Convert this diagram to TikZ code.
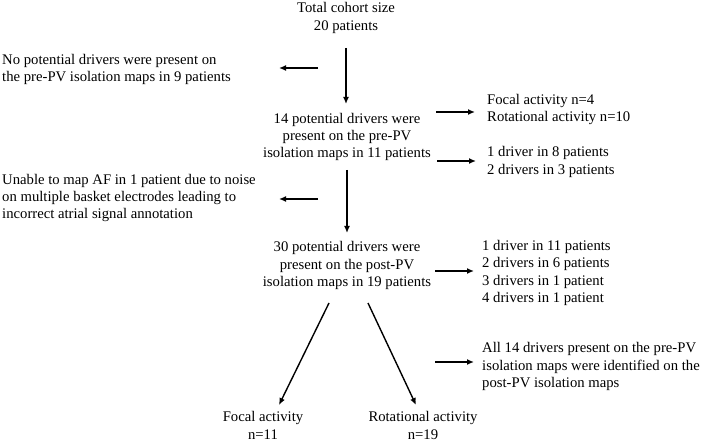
\documentclass[tikz,border=0pt]{standalone}
\usepackage{fontspec}
\setmainfont{Liberation Serif}
\usetikzlibrary{arrows.meta}
\begin{document}
\begin{tikzpicture}[x=1pt,y=-1pt,
  txt/.style={inner sep=0pt,font=\fontsize{14.7}{17.3}\selectfont},
  ctr/.style={txt,align=center},
  lft/.style={txt,align=left,anchor=west},
  arr/.style={line width=1.4pt,-{Latex[length=7pt,width=6pt]}}]
\useasboundingbox (0,0) rectangle (707,443);
\node[ctr] (total) at (346,18) {Total cohort size\\20 patients};
\node[lft] (none) at (2,69.5) {No potential drivers were present on\\the pre-PV isolation maps in 9 patients};
\node[ctr] (pre) at (347,137) {14 potential drivers were\\present on the pre-PV\\isolation maps in 11 patients};
\node[lft] (types1) at (487,109.5) {Focal activity n=4\\Rotational activity n=10};
\node[lft] (count1) at (487,162) {1 driver in 8 patients\\2 drivers in 3 patients};
\node[lft] (unable) at (2,198) {Unable to map AF in 1 patient due to noise\\on multiple basket electrodes leading to\\incorrect atrial signal annotation};
\node[ctr] (post) at (347,265.5) {30 potential drivers were\\present on the post-PV\\isolation maps in 19 patients};
\node[lft] (count2) at (482,273) {1 driver in 11 patients\\2 drivers in 6 patients\\3 drivers in 1 patient\\4 drivers in 1 patient};
\node[lft] (all) at (482,366.5) {All 14 drivers present on the pre-PV\\isolation maps were identified on the\\post-PV isolation maps};
\node[ctr] (focal) at (263,425.5) {Focal activity\\n=11};
\node[ctr] (rot) at (423,425.5) {Rotational activity\\n=19};
% arrow end points
\coordinate (a1s) at (346,48); \coordinate (a1e) at (346,104);
\coordinate (l1s) at (318,68); \coordinate (l1e) at (279,68);
\coordinate (r1s) at (436,112); \coordinate (r1e) at (475,112);
\coordinate (r2s) at (437,161); \coordinate (r2e) at (476,161);
\coordinate (a2s) at (347,170); \coordinate (a2e) at (347,233);
\coordinate (l2s) at (318,199); \coordinate (l2e) at (279,199);
\coordinate (r3s) at (435,271); \coordinate (r3e) at (474,271);
\coordinate (d1s) at (329,303); \coordinate (d1e) at (279,405);
\coordinate (d2s) at (368,303); \coordinate (d2e) at (416,405);
\coordinate (r4s) at (435,362); \coordinate (r4e) at (474,362);
\draw[arr] (a1s) -- (a1e);
\draw[arr] (l1s) -- (l1e);
\draw[arr] (r1s) -- (r1e);
\draw[arr] (r2s) -- (r2e);
\draw[arr] (a2s) -- (a2e);
\draw[arr] (l2s) -- (l2e);
\draw[arr] (r3s) -- (r3e);
\draw[arr] (d1s) -- (d1e);
\draw[arr] (d2s) -- (d2e);
\draw[arr] (r4s) -- (r4e);
\end{tikzpicture}
\end{document}
